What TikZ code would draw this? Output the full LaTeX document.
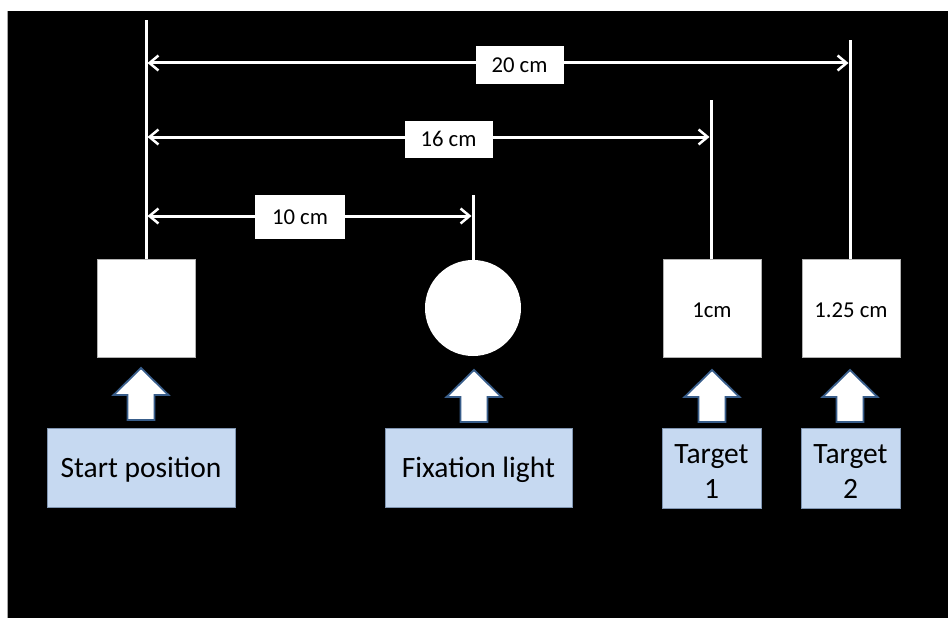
\documentclass[tikz,border=0pt]{standalone}
\usepackage{fontspec}
\setmainfont{Carlito}
\usetikzlibrary{arrows.meta}
\definecolor{lblue}{HTML}{C6D9F1}
\definecolor{lborder}{HTML}{8196B2}
\definecolor{adark}{HTML}{385D8A}
\newcommand\dimfont{\fontsize{22.7}{27}\selectfont}
\newcommand\labfont{\fontsize{29.5}{35}\selectfont}
\begin{document}
\begin{tikzpicture}[x=1pt,y=-1pt,
  dimline/.style={draw=white, line width=3pt},
  dimarr/.style={draw=white, line width=3pt,
    {Straight Barb[length=9pt,width=15pt,line width=2.5pt]}-{Straight Barb[length=9pt,width=15pt,line width=2.5pt]}},
  sqbox/.style={draw=gray!60, fill=white, minimum size=98pt, inner sep=0pt},
  sqtext/.style={inner sep=0pt, font=\dimfont},
  dimlbl/.style={fill=white, inner sep=0pt, minimum width=88pt, font=\dimfont},
  lblbox/.style={draw=lborder, line width=0.8pt, fill=lblue, inner sep=0pt},
  lbltext/.style={inner sep=0pt, align=center, font=\labfont},
  uparr/.pic={\draw[adark, fill=white, line width=1.8pt, line join=miter]
    (0,0) -- (27.5,27) -- (13.5,27) -- (13.5,52) -- (-13.5,52) -- (-13.5,27) -- (-27.5,27) -- cycle;}
]
\useasboundingbox (0,0) rectangle (948,618);
\fill[white] (0,0) rectangle (948,618);
\fill[black] (7,11) rectangle (948,618);
\draw[gray!70, line width=0.8pt] (7,11) -- (7,618);

% shapes
\node[sqbox] (start) at (146,308) {};
\node[circle, fill=white, minimum size=96pt, inner sep=0pt] (fix) at (473,308) {};
\node[sqbox] (tone) at (712,308) {};
\node[sqbox] (ttwo) at (851,308) {};
\node[sqtext] (tonetxt) at (712,310) {1cm};
\node[sqtext] (ttwotxt) at (851,310) {1.25 cm};

% extension lines
\coordinate (starttop) at (146,20);
\coordinate (fixtop) at (473,195);
\coordinate (tonetop) at (711,100);
\coordinate (ttwotop) at (850,40);
\draw[dimline] (start.north) -- (starttop);
\draw[dimline] (fix.north) -- (fixtop);
\draw[dimline] ([xshift=-1pt]tone.north) -- (tonetop);
\draw[dimline] ([xshift=-1pt]ttwo.north) -- (ttwotop);

% dimension arrows
\coordinate (a20) at (147.5,63);
\coordinate (b20) at (848.5,63);
\coordinate (a16) at (147.5,137);
\coordinate (b16) at (709.5,137);
\coordinate (a10) at (147.5,216);
\coordinate (b10) at (471.5,216);
\draw[dimarr] (a20) -- (b20);
\draw[dimarr] (a16) -- (b16);
\draw[dimarr] (a10) -- (b10);
\node[dimlbl, minimum height=38pt] (l20) at (519.5,65) {20 cm};
\node[dimlbl, minimum height=37pt] (l16) at (448.5,139) {16 cm};
\node[dimlbl, minimum height=44pt, minimum width=90pt] (l10) at (300,217) {10 cm};

% label boxes
\node[lblbox, minimum width=188pt, minimum height=79pt] (startlbl) at (141,467.5) {};
\node[lblbox, minimum width=187pt, minimum height=79pt] (fixlbl) at (478.5,467.5) {};
\node[lblbox, minimum width=99pt, minimum height=80pt] (tonelbl) at (711.5,468) {};
\node[lblbox, minimum width=99pt, minimum height=80pt] (ttwolbl) at (850.5,468) {};
\node[lbltext] (starttxt) at (141,470) {Start position};
\node[lbltext] (fixtxt) at (478.5,470) {Fixation light};
\node[lbltext] (tonetxt2) at (711.5,472) {Target\\1};
\node[lbltext] (ttwotxt2) at (850.5,472) {Target\\2};

% block arrows
\pic at (141,368) {uparr};
\pic at (474,370) {uparr};
\pic at (712,370) {uparr};
\pic at (850,370) {uparr};
\end{tikzpicture}
\end{document}
